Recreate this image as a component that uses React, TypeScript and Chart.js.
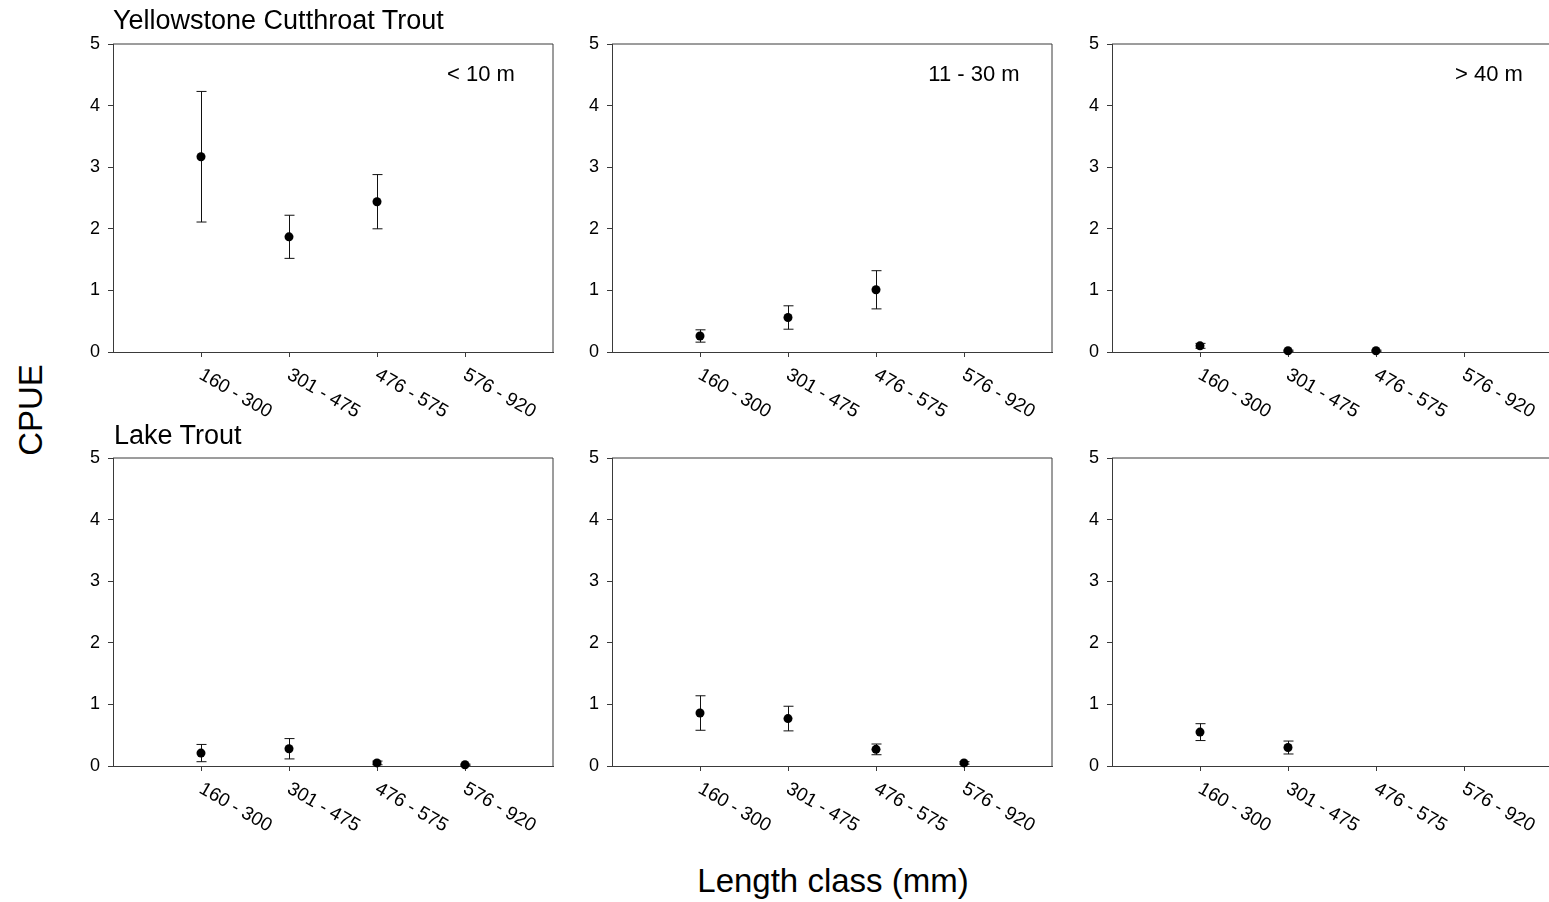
import React, { useEffect, useRef } from "react";
import { Chart, registerables } from "chart.js";

Chart.register(...registerables);

// ---- data -------------------------------------------------------------
const lengthClasses = ["160 - 300", "301 - 475", "476 - 575", "576 - 920"];
const depthZones = ["< 10 m", "11 - 30 m", "> 40 m"];
const speciesNames = ["Yellowstone Cutthroat Trout", "Lake Trout"];
const yTickValues = [0, 1, 2, 3, 4, 5];

// Mean CPUE by length class (null = none caught) and its standard error
const cutthroatShallowMean = [3.17, 1.87, 2.44, null];
const cutthroatShallowSE = [1.06, 0.35, 0.44, null];
const cutthroatMidMean = [0.26, 0.56, 1.01, null];
const cutthroatMidSE = [0.1, 0.19, 0.31, null];
const cutthroatDeepMean = [0.1, 0.02, 0.02, null];
const cutthroatDeepSE = [0.04, 0.01, 0.01, null];

const lakeShallowMean = [0.21, 0.28, 0.05, 0.02];
const lakeShallowSE = [0.14, 0.165, 0.03, 0.01];
const lakeMidMean = [0.86, 0.77, 0.27, 0.05];
const lakeMidSE = [0.28, 0.2, 0.087, 0.02];
const lakeDeepMean = [0.55, 0.3, null, null];
const lakeDeepSE = [0.137, 0.105, null, null];

const panelMeans = [
  [cutthroatShallowMean, cutthroatMidMean, cutthroatDeepMean],
  [lakeShallowMean, lakeMidMean, lakeDeepMean],
];
const panelSE = [
  [cutthroatShallowSE, cutthroatMidSE, cutthroatDeepSE],
  [lakeShallowSE, lakeMidSE, lakeDeepSE],
];

// ---- layout -----------------------------------------------------------
const FONT = '"Liberation Sans", Arial, Helvetica, sans-serif';
const AREA_W = 440;
const AREA_H = 308;
const AXIS_Y_W = 62;
const AXIS_X_H = 90;
const PAD_T = 12;
const PAD_R = 12;
const CANVAS_W = AXIS_Y_W + AREA_W + PAD_R;
const CANVAS_H = PAD_T + AREA_H + AXIS_X_H;
const areaLefts = [113, 612, 1112];
const areaTops = [44, 458];
const zoneLabelCenters = [368, 362, 377];
const LINE = "#3a3a3a";

type Pt = { x: number; y: number; se: number };

function noScalePadding(s: any) {
  s.paddingTop = 0;
  s.paddingBottom = 0;
  s.paddingLeft = 0;
  s.paddingRight = 0;
}

function makeConfig(
  means: (number | null)[],
  errs: (number | null)[],
  row: number,
  col: number
): any {
  const points: Pt[] = [];
  means.forEach((m, i) => {
    if (m !== null) points.push({ x: i + 1, y: m, se: errs[i] ?? 0 });
  });

  const errorBars = {
    id: "errorBars",
    beforeDatasetsDraw(chart: any) {
      const { ctx, scales } = chart;
      const xs = scales.x;
      const ys = scales.y;
      ctx.save();
      ctx.strokeStyle = "#111";
      ctx.lineWidth = 1;
      points.forEach((p) => {
        const px = Math.round(xs.getPixelForValue(p.x)) + 0.5;
        const top = ys.getPixelForValue(p.y + p.se);
        const bot = ys.getPixelForValue(Math.max(0, p.y - p.se));
        ctx.beginPath();
        ctx.moveTo(px, top);
        ctx.lineTo(px, bot);
        ctx.moveTo(px - 5, top);
        ctx.lineTo(px + 5, top);
        ctx.moveTo(px - 5, bot);
        ctx.lineTo(px + 5, bot);
        ctx.stroke();
      });
      ctx.restore();
    },
  };

  const decorations = {
    id: "decorations",
    afterDraw(chart: any) {
      const { ctx, chartArea, scales } = chart;
      ctx.save();
      // frame on top and right
      ctx.strokeStyle = LINE;
      ctx.lineWidth = 1;
      ctx.beginPath();
      ctx.moveTo(chartArea.left, chartArea.top);
      ctx.lineTo(chartArea.right, chartArea.top);
      ctx.lineTo(chartArea.right, chartArea.bottom);
      ctx.stroke();

      // slanted length-class labels
      ctx.fillStyle = "#000";
      ctx.font = `19px ${FONT}`;
      ctx.textAlign = "left";
      ctx.textBaseline = "alphabetic";
      lengthClasses.forEach((lab, i) => {
        const px = scales.x.getPixelForValue(i + 1);
        ctx.save();
        ctx.translate(px - 3, chartArea.bottom + 26);
        ctx.rotate(Math.PI / 6);
        ctx.fillText(lab, 0, 0);
        ctx.restore();
      });

      // depth zone label (top row only)
      if (row === 0) {
        ctx.font = `22px ${FONT}`;
        ctx.textAlign = "center";
        ctx.fillText(depthZones[col], chartArea.left + zoneLabelCenters[col], chartArea.top + 37);
      }
      ctx.restore();
    },
  };

  return {
    type: "scatter",
    data: {
      datasets: [
        {
          data: points,
          pointRadius: 4.5,
          pointHoverRadius: 4.5,
          pointBackgroundColor: "#000",
          pointBorderColor: "#000",
          pointBorderWidth: 0,
          showLine: false,
          clip: false,
        },
      ],
    },
    options: {
      responsive: false,
      maintainAspectRatio: false,
      animation: false,
      devicePixelRatio: 1,
      events: [],
      layout: { padding: { top: PAD_T, right: PAD_R, left: 0, bottom: 0 } },
      plugins: { legend: { display: false }, tooltip: { enabled: false } },
      scales: {
        x: {
          type: "linear",
          min: 0,
          max: lengthClasses.length + 1,
          afterBuildTicks: (s: any) => {
            s.ticks = lengthClasses.map((_, i) => ({ value: i + 1 }));
          },
          afterFit: (s: any) => {
            s.height = AXIS_X_H;
            noScalePadding(s);
          },
          grid: { display: true, drawOnChartArea: false, drawTicks: true, tickLength: 5, color: LINE },
          border: { display: true, color: LINE, width: 1 },
          ticks: { display: false },
        },
        y: {
          type: "linear",
          min: 0,
          max: 5,
          afterBuildTicks: (s: any) => {
            s.ticks = yTickValues.map((v) => ({ value: v }));
          },
          afterFit: (s: any) => {
            s.width = AXIS_Y_W;
            noScalePadding(s);
          },
          grid: { display: true, drawOnChartArea: false, drawTicks: true, tickLength: 5, color: LINE },
          border: { display: true, color: LINE, width: 1 },
          ticks: { color: "#000", font: { family: FONT, size: 18 }, padding: 8 },
        },
      },
    },
    plugins: [errorBars, decorations],
  };
}

function Panel({ row, col }: { row: number; col: number }) {
  const ref = useRef<HTMLCanvasElement>(null);
  useEffect(() => {
    const chart = new Chart(
      ref.current as HTMLCanvasElement,
      makeConfig(panelMeans[row][col], panelSE[row][col], row, col)
    );
    return () => chart.destroy();
  }, [row, col]);
  return (
    <canvas
      ref={ref}
      width={CANVAS_W}
      height={CANVAS_H}
      style={{
        position: "absolute",
        left: areaLefts[col] - AXIS_Y_W,
        top: areaTops[row] - PAD_T,
        width: CANVAS_W,
        height: CANVAS_H,
      }}
    />
  );
}

export default function App() {
  const textBase: React.CSSProperties = {
    position: "absolute",
    fontFamily: FONT,
    color: "#000",
    whiteSpace: "nowrap",
    lineHeight: 1,
  };
  return (
    <div
      style={{
        position: "fixed",
        left: 0,
        top: 0,
        width: 1549,
        height: 902,
        overflow: "hidden",
        background: "#fff",
      }}
    >
      {[0, 1].map((r) => [0, 1, 2].map((c) => <Panel key={`${r}-${c}`} row={r} col={c} />))}
      <div style={{ ...textBase, left: 113, top: 7, fontSize: 27 }}>{speciesNames[0]}</div>
      <div style={{ ...textBase, left: 114, top: 422, fontSize: 27 }}>{speciesNames[1]}</div>
      <div
        style={{
          ...textBase,
          left: 30,
          top: 410,
          fontSize: 33,
          transform: "translate(-50%, -50%) rotate(-90deg)",
        }}
      >
        CPUE
      </div>
      <div style={{ ...textBase, left: 833, top: 864, fontSize: 33, transform: "translateX(-50%)" }}>
        Length class (mm)
      </div>
    </div>
  );
}
